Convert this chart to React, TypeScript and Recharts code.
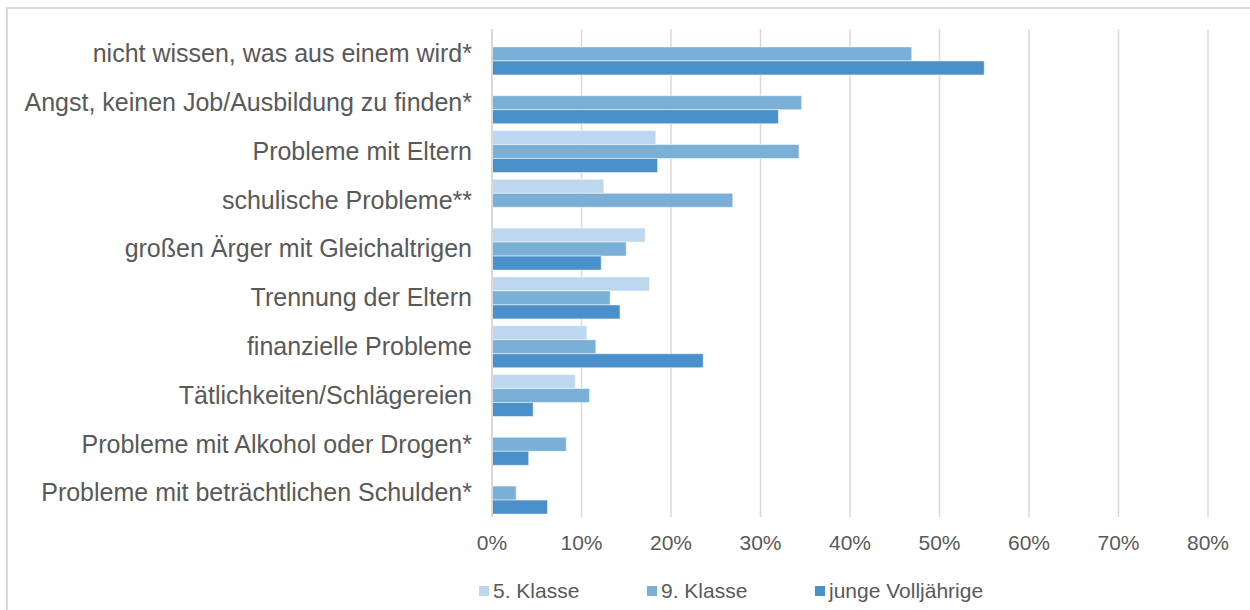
import React from "react";
import { BarChart, Bar, XAxis, YAxis, CartesianGrid, Legend } from "recharts";

const categories = [
  "nicht wissen, was aus einem wird*",
  "Angst, keinen Job/Ausbildung zu finden*",
  "Probleme mit Eltern",
  "schulische Probleme**",
  "großen Ärger mit Gleichaltrigen",
  "Trennung der Eltern",
  "finanzielle Probleme",
  "Tätlichkeiten/Schlägereien",
  "Probleme mit Alkohol oder Drogen*",
  "Probleme mit beträchtlichen Schulden*",
];

const klasse5 = [null, null, 0.183, 0.125, 0.171, 0.176, 0.106, 0.093, null, null];
const klasse9 = [0.469, 0.346, 0.343, 0.269, 0.15, 0.132, 0.116, 0.109, 0.083, 0.027];
const jungeVolljaehrige = [0.55, 0.32, 0.185, null, 0.122, 0.143, 0.236, 0.046, 0.041, 0.062];

const xTicks = [0, 0.1, 0.2, 0.3, 0.4, 0.5, 0.6, 0.7, 0.8];

const seriesNames = ["5. Klasse", "9. Klasse", "junge Volljährige"];
const seriesColors = ["#BDD7EE", "#7AAFD8", "#4A90CB"];

const data = categories.map((name, i) => ({
  name,
  k5: klasse5[i],
  k9: klasse9[i],
  jv: jungeVolljaehrige[i],
}));

const FONT = "'Liberation Sans', Arial, sans-serif";

const renderLegend = (props: any) => {
  const payload = props.payload || [];
  return (
    <div style={{ display: "flex", fontFamily: FONT, fontSize: 21, color: "#595959", whiteSpace: "nowrap" }}>
      {payload.map((p: any, i: number) => (
        <div key={i} style={{ width: i < payload.length - 1 ? 168 : "auto", flexShrink: 0, display: "flex", alignItems: "center" }}>
          <span
            style={{
              display: "inline-block",
              width: 10,
              height: 10,
              background: p.color,
              marginRight: 4,
            }}
          />
          <span>{p.value}</span>
        </div>
      ))}
    </div>
  );
};

export default function App() {
  return (
    <div style={{ position: "absolute", left: 0, top: 0, width: 1250, height: 610, background: "#fff", overflow: "hidden" }}>
      <div
        style={{
          position: "absolute",
          left: 6,
          top: 7,
          width: 1244,
          height: 603,
          borderTop: "2px solid #D9D9D9",
          borderLeft: "2px solid #D9D9D9",
          boxSizing: "border-box",
        }}
      />
      <div style={{ position: "absolute", left: 0, top: 0 }}>
        <BarChart
          width={1250}
          height={610}
          data={data}
          layout="vertical"
          margin={{ top: 29, right: 42, bottom: 63, left: 0 }}
          barCategoryGap="8%"
          barGap={0}
        >
          <CartesianGrid horizontal={false} vertical={true} stroke="#D9D9D9" strokeWidth={1.5} />
          <XAxis
            type="number"
            domain={[0, 0.8]}
            ticks={xTicks}
            tickFormatter={(v: number) => `${Math.round(v * 100)}%`}
            axisLine={false}
            tickLine={false}
            tickSize={0}
            tickMargin={18}
            height={30}
            interval={0}
            tick={{ fill: "#595959", fontSize: 21, fontFamily: FONT }}
          />
          <YAxis
            type="category"
            dataKey="name"
            width={492}
            axisLine={{ stroke: "#D9D9D9", strokeWidth: 2 }}
            tickLine={false}
            tickSize={0}
            tickMargin={20}
            interval={0}
            tick={{ fill: "#595959", fontSize: 25, fontFamily: FONT }}
          />
          <Legend
            layout="horizontal"
            verticalAlign="middle"
            align="center"
            wrapperStyle={{ left: 479, top: 579, width: 700 }}
            content={renderLegend}
          />
          <Bar dataKey="k5" name={seriesNames[0]} fill={seriesColors[0]} stroke="#ffffff" strokeOpacity={0.5} strokeWidth={1} isAnimationActive={false} />
          <Bar dataKey="k9" name={seriesNames[1]} fill={seriesColors[1]} stroke="#ffffff" strokeOpacity={0.5} strokeWidth={1} isAnimationActive={false} />
          <Bar dataKey="jv" name={seriesNames[2]} fill={seriesColors[2]} stroke="#ffffff" strokeOpacity={0.5} strokeWidth={1} isAnimationActive={false} />
        </BarChart>
      </div>
    </div>
  );
}
